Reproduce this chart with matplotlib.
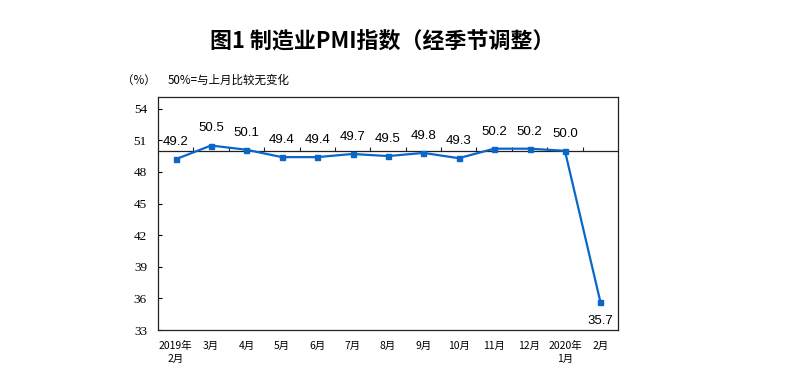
import matplotlib
matplotlib.use("Agg")
import matplotlib.pyplot as plt
import numpy as np

plt.rcParams['font.family'] = ['Noto Sans CJK SC', 'DejaVu Sans']

categories = ["2019年\n2月", "3月", "4月", "5月", "6月", "7月", "8月", "9月", "10月", "11月", "12月", "2020年\n1月", "2月"]
values = [49.2, 50.5, 50.1, 49.4, 49.4, 49.7, 49.5, 49.8, 49.3, 50.2, 50.2, 50.0, 35.7]
yticks = [33, 36, 39, 42, 45, 48, 51, 54]
baseline = 50

fig = plt.figure(figsize=(8, 3.9), dpi=100)
ax = fig.add_axes([0.1975, 0.1538, 0.575, 0.5974])

x = np.arange(len(values))
color = "#0A66C8"
ax.plot(x, values, color=color, lw=1.6, marker="s", ms=3.6, zorder=3)

ax.set_xlim(-0.5, len(values) - 0.5)
ax.set_ylim(33, 55.1)
ax.set_yticks(yticks)
ax.set_yticklabels([str(v) for v in yticks], family=["Liberation Serif"], fontsize=9.5)
ax.tick_params(axis="y", direction="in", length=3, width=0.8, pad=8)

ax.set_xticks(x)
ax.set_xticklabels(categories, fontsize=7.5, linespacing=1.3)
ax.tick_params(axis="x", length=0, pad=8)

for s in ax.spines.values():
    s.set_linewidth(0.9)
    s.set_color("#222222")

ax.axhline(baseline, color="#222222", lw=0.9, zorder=2)
bounds = x[:-1] + 0.5
ax.vlines(bounds, baseline, baseline + 0.35, color="#222222", lw=0.8, zorder=2)

for xi, v in zip(x, values):
    if v < baseline - 5:
        ax.annotate(f"{v:.1f}", (xi, v), xytext=(0, -10), textcoords="offset points",
                    ha="center", va="top", fontsize=9.5, family=["Liberation Sans"])
    else:
        ax.annotate(f"{v:.1f}", (xi, v), xytext=(0, 8), textcoords="offset points",
                    ha="center", va="bottom", fontsize=9.5, family=["Liberation Sans"])

fig.text(0.4775, 0.893, "图1 制造业PMI指数（经季节调整）", ha="center", va="center",
         fontsize=15.8, fontweight="bold")
fig.text(0.173, 0.795, "（%）", ha="center", va="center", fontsize=8.3)
fig.text(0.209, 0.795, "50%=与上月比较无变化", ha="left", va="center", fontsize=8.3)

fig.savefig("out.png", dpi=100)
